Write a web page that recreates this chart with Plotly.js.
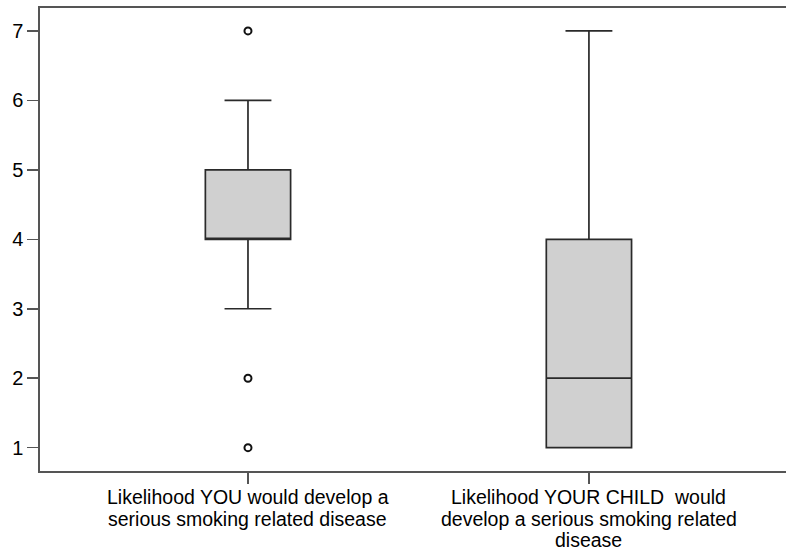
<!DOCTYPE html>
<html>
<head>
<meta charset="utf-8">
<script src="https://cdn.plot.ly/plotly-3.0.1.min.js"></script>
<style>html,body{margin:0;padding:0;background:#fff;}#chart{width:786px;height:551px;}</style>
</head>
<body>
<div id="chart"></div>
<script>
// Data
var categoryLines = [
  ["Likelihood YOU would develop a", "serious smoking related disease"],
  ["Likelihood YOUR CHILD  would", "develop a serious smoking related", "disease"]
];
var positions = [0, 1];
var q1 = [4, 1];
var median = [4, 2];
var q3 = [5, 4];
var lowerFence = [3, 1];
var upperFence = [6, 7];
var outlierX = [0, 0, 0];
var outlierY = [7, 2, 1];
var yTicks = [1, 2, 3, 4, 5, 6, 7];

var font = "Liberation Sans, Arial, sans-serif";

var traces = [
  {
    type: "box",
    x: positions,
    q1: q1, median: median, q3: q3,
    lowerfence: lowerFence, upperfence: upperFence,
    boxpoints: false,
    width: 0.25,
    whiskerwidth: 0.55,
    fillcolor: "#d0d0d0",
    line: {color: "#2a2a2a", width: 1.7},
    hoverinfo: "skip",
    showlegend: false
  },
  {
    type: "scatter",
    mode: "markers",
    x: outlierX,
    y: outlierY,
    marker: {symbol: "circle-open", size: 7, color: "#111111", line: {width: 2, color: "#111111"}},
    hoverinfo: "skip",
    showlegend: false
  }
];

var annotations = [];
var lineGap = 21.5;
categoryLines.forEach(function (lines, ci) {
  lines.forEach(function (txt, li) {
    annotations.push({
      xref: "x", yref: "paper",
      x: positions[ci], y: 0,
      xanchor: "center", yanchor: "middle",
      yshift: -26 - li * lineGap,
      text: txt, showarrow: false,
      borderpad: 0,
      font: {family: font, size: 19.5, color: "#000000"}
    });
  });
});

var layout = {
  width: 786, height: 551,
  margin: {l: 40, r: 0, t: 8, b: 80},
  paper_bgcolor: "#ffffff",
  plot_bgcolor: "#ffffff",
  showlegend: false,
  xaxis: {
    range: [-0.61, 1.578],
    tickvals: positions,
    ticktext: positions.map(function () { return ""; }),
    ticks: "outside", ticklen: 11, tickwidth: 1.5, tickcolor: "#555555",
    showline: true, linecolor: "#555555", linewidth: 1.6, mirror: true,
    showgrid: false, zeroline: false, fixedrange: true
  },
  yaxis: {
    range: [0.664, 7.33],
    tickvals: yTicks,
    ticks: "outside", ticklen: 11, tickwidth: 1.5, tickcolor: "#555555",
    showline: true, linecolor: "#555555", linewidth: 1.6, mirror: false,
    showgrid: false, zeroline: false,
    tickfont: {family: font, size: 20, color: "#000000"},
    fixedrange: true
  },
  annotations: annotations
};

Plotly.newPlot("chart", traces, layout, {displayModeBar: false, staticPlot: true});
</script>
</body>
</html>
